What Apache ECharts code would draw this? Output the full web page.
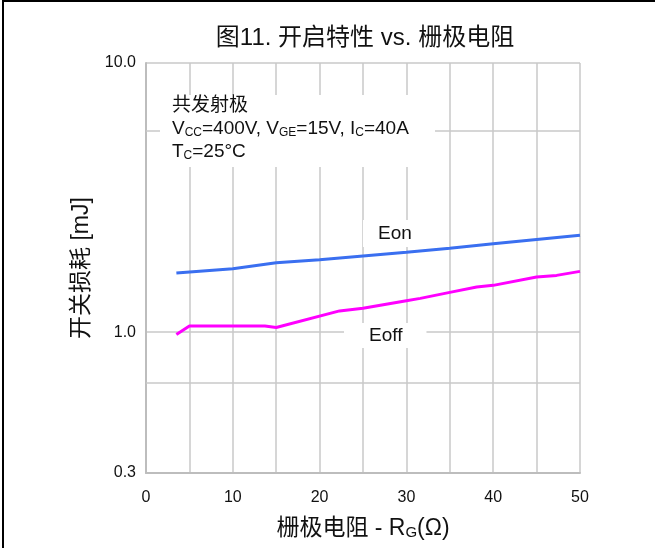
<!DOCTYPE html>
<html>
<head>
<meta charset="utf-8">
<script src="https://cdn.jsdelivr.net/npm/echarts@6/dist/echarts.min.js"></script>
<style>
  html, body { margin: 0; padding: 0; background: #fff; }
  #main { width: 655px; height: 548px; }
</style>
</head>
<body>
<div id="main"></div>
<script>
// 栅极电阻 Rg (Ω) 与开关损耗 (mJ)
var rgOn  = [3.5, 10, 15, 20, 25, 30, 35, 40, 45, 50];
var eon   = [1.66, 1.72, 1.81, 1.86, 1.92, 1.98, 2.05, 2.13, 2.21, 2.29];
var rgOff = [3.5, 5, 13.7, 15, 22.3, 25, 30, 31.6, 35, 38.1, 40, 45, 47.3, 50];
var eoff  = [0.98, 1.055, 1.055, 1.041, 1.2, 1.227, 1.31, 1.336, 1.406, 1.472, 1.493, 1.603, 1.626, 1.683];
// 额外的水平网格线
var extraGridY = [5.6, 0.65];
var yTickLabels = { '10': '10.0', '1': '1.0', '0.3': '0.3' };

var FONT = '"Liberation Sans", Arial, "Noto Sans CJK SC", sans-serif';
var GRID_COLOR = '#c8c8c8';

function pairs(xs, ys){
  var res = [];
  for(var i=0;i<xs.length;i++){
    res.push([xs[i], ys[i]]);
  }
  return res;
}

var chart = echarts.init(document.getElementById('main'), null, { renderer: 'canvas' });

var option = {
  backgroundColor: '#fff',
  animation: false,
  textStyle: { fontFamily: FONT },
  title: {
    text: '图11. 开启特性 vs. 栅极电阻',
    left: 360,
    textAlign: 'center',
    top: 21,
    textStyle: { fontFamily: FONT, fontSize: 24, fontWeight: 'normal', color: '#111' }
  },
  grid: { left: 146, top: 63, right: 75, bottom: 75 },
  xAxis: {
    type: 'value',
    min: 0,
    max: 50,
    interval: 5,
    name: '栅极电阻 - R{sub|G}(Ω)',
    nameLocation: 'middle',
    nameGap: 42,
    nameTextStyle: {
      fontFamily: FONT, fontSize: 23, color: '#111', lineHeight: 27,
      rich: { sub: { fontFamily: FONT, fontSize: 15, color: '#111', lineHeight: 27, padding: [9, 0, 0, 0] } }
    },
    axisLine: { show: true, lineStyle: { color: '#bdbdbd', width: 2 } },
    axisTick: { show: false },
    axisLabel: {
      margin: 17,
      fontFamily: FONT, fontSize: 16, color: '#111',
      formatter: function(v){ return v % 10 === 0 ? String(v) : ''; }
    },
    splitLine: { show: true, lineStyle: { color: GRID_COLOR, width: 1.5 } }
  },
  yAxis: {
    type: 'log',
    logBase: 10,
    min: 0.3,
    max: 10,
    name: '开关损耗 [mJ]',
    nameLocation: 'middle',
    nameGap: 53,
    nameTextStyle: { fontFamily: FONT, fontSize: 23, color: '#111' },
    axisLine: { show: true, lineStyle: { color: '#bdbdbd', width: 2 } },
    axisTick: { show: false },
    axisLabel: {
      margin: 10,
      fontFamily: FONT, fontSize: 16, color: '#111',
      formatter: function(v){
        var key = String(+(+v).toFixed(2));
        return yTickLabels[key] || '';
      }
    },
    splitLine: { show: true, lineStyle: { color: GRID_COLOR, width: 1.5 } }
  },
  series: [
    {
      name: 'Eon',
      type: 'line',
      data: pairs(rgOn, eon),
      symbol: 'none',
      z: 3,
      lineStyle: { color: '#3a6ff0', width: 3 },
      markLine: {
        silent: true,
        symbol: 'none',
        z: 1,
        label: { show: false },
        lineStyle: { color: GRID_COLOR, width: 1.5, type: 'solid' },
        data: extraGridY.map(function(v){ return { yAxis: v }; })
      }
    },
    {
      name: 'Eoff',
      type: 'line',
      data: pairs(rgOff, eoff),
      symbol: 'none',
      z: 3,
      lineStyle: { color: '#ff00ff', width: 3 }
    }
  ],
  graphic: [
    {
      type: 'rect', z: 100, silent: true,
      shape: { x: 3, y: 1, width: 700, height: 600 },
      style: { fill: 'none', stroke: '#000', lineWidth: 2 }
    },
    {
      type: 'rect', z: 50, silent: true,
      shape: { x: 160, y: 95, width: 275, height: 72 },
      style: { fill: '#fff' }
    },
    {
      type: 'text', z: 60, silent: true,
      left: 172, top: 94,
      style: {
        text: '共发射极\nV{s|CC}=400V, V{s|GE}=15V, I{s|C}=40A\nT{s|C}=25°C',
        fontFamily: FONT, fontSize: 19, fill: '#111', lineHeight: 23,
        rich: {
          s: { fontFamily: FONT, fontSize: 12, fill: '#111', lineHeight: 23, padding: [8, 0, 0, 0] }
        }
      }
    },
    {
      type: 'text', z: 60, silent: true,
      left: 363, top: 220,
      style: {
        text: 'Eon', fontFamily: FONT, fontSize: 19, fill: '#111',
        backgroundColor: '#fff', padding: [4, 15, 4, 15]
      }
    },
    {
      type: 'text', z: 60, silent: true,
      left: 344, top: 323,
      style: {
        text: 'Eoff', fontFamily: FONT, fontSize: 19, fill: '#111',
        backgroundColor: '#fff', padding: [3, 24, 3, 25]
      }
    }
  ]
};

chart.setOption(option);
</script>
</body>
</html>
